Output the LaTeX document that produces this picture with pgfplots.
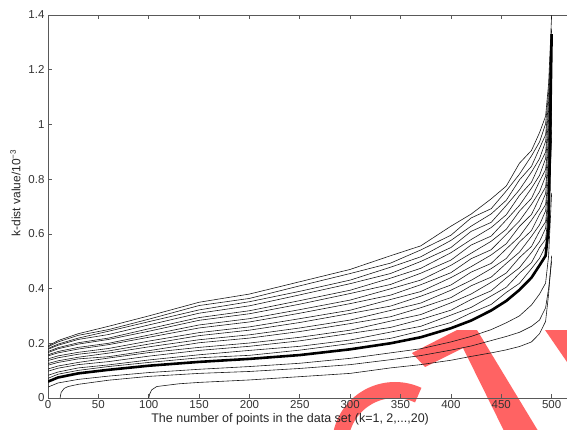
\documentclass[border=0pt]{standalone}
\usepackage{pgfplots}
\usepackage{pgfplotstable}
\pgfplotsset{compat=1.18}
\usepackage{fontspec}
\setmainfont{Liberation Sans}

\definecolor{wmred}{RGB}{255,99,99}

% k-dist curves, k=3..20 (k4 is the thick one)
\pgfplotstableread{
x   k3    k4    k5    k6    k7    k8    k9    k10   k11   k12   k13   k14   k15   k16   k17   k18   k19   k20
0   0.040 0.060 0.072 0.083 0.098 0.106 0.120 0.126 0.137 0.143 0.154 0.158 0.166 0.170 0.178 0.181 0.187 0.190
10  0.055 0.075 0.087 0.095 0.109 0.117 0.130 0.136 0.147 0.154 0.165 0.170 0.180 0.184 0.193 0.197 0.205 0.210
30  0.068 0.090 0.101 0.110 0.122 0.130 0.143 0.149 0.160 0.167 0.179 0.185 0.197 0.202 0.214 0.219 0.229 0.235
60  0.080 0.103 0.115 0.121 0.133 0.146 0.151 0.164 0.172 0.181 0.195 0.200 0.214 0.219 0.232 0.244 0.250 0.262
100 0.093 0.118 0.130 0.139 0.153 0.166 0.173 0.187 0.197 0.208 0.222 0.230 0.244 0.253 0.267 0.279 0.288 0.300
150 0.105 0.132 0.147 0.158 0.174 0.185 0.202 0.213 0.228 0.239 0.256 0.267 0.284 0.294 0.310 0.322 0.338 0.350
200 0.115 0.143 0.156 0.174 0.189 0.201 0.219 0.231 0.248 0.260 0.278 0.290 0.308 0.319 0.337 0.352 0.364 0.380
250 0.127 0.157 0.175 0.189 0.209 0.222 0.243 0.256 0.276 0.290 0.310 0.323 0.343 0.356 0.377 0.390 0.410 0.425
300 0.145 0.178 0.199 0.212 0.236 0.248 0.272 0.285 0.309 0.321 0.345 0.358 0.382 0.394 0.418 0.431 0.455 0.470
340 0.165 0.200 0.218 0.241 0.258 0.281 0.297 0.320 0.336 0.360 0.376 0.399 0.415 0.438 0.455 0.478 0.493 0.520
370 0.180 0.222 0.245 0.262 0.287 0.305 0.330 0.347 0.372 0.389 0.414 0.431 0.456 0.474 0.499 0.516 0.541 0.556
400 0.205 0.255 0.276 0.303 0.321 0.348 0.367 0.394 0.413 0.440 0.458 0.485 0.504 0.531 0.550 0.576 0.595 0.628
420 0.225 0.283 0.311 0.331 0.360 0.380 0.410 0.430 0.460 0.480 0.509 0.529 0.559 0.579 0.609 0.628 0.658 0.672
440 0.250 0.320 0.342 0.373 0.392 0.423 0.442 0.473 0.492 0.523 0.542 0.573 0.592 0.623 0.642 0.673 0.692 0.728
455 0.275 0.355 0.386 0.405 0.439 0.457 0.492 0.510 0.545 0.564 0.598 0.617 0.651 0.670 0.704 0.723 0.757 0.775
468 0.300 0.395 0.419 0.456 0.476 0.513 0.533 0.570 0.590 0.627 0.647 0.683 0.704 0.740 0.761 0.797 0.818 0.858
480 0.340 0.440 0.473 0.495 0.532 0.554 0.591 0.612 0.650 0.671 0.708 0.730 0.767 0.789 0.826 0.847 0.885 0.905
488 0.380 0.485 0.511 0.550 0.572 0.610 0.633 0.671 0.693 0.732 0.754 0.792 0.814 0.853 0.875 0.913 0.936 0.970
494 0.420 0.520 0.556 0.580 0.620 0.644 0.684 0.707 0.747 0.771 0.811 0.835 0.875 0.899 0.938 0.962 1.002 1.030
497 0.520 0.620 0.653 0.686 0.719 0.753 0.786 0.819 0.852 0.885 0.918 0.951 0.984 1.018 1.051 1.084 1.117 1.150
500 0.750 1.330 0.950 1.020 0.980 1.100 1.050 1.150 1.080 1.200 1.120 1.250 1.180 1.280 1.220 1.300 1.350 1.400
}\kdist

\pgfplotsset{kline/.style={black!90, line width=0.6pt, mark=none, line join=round}}

\begin{document}
\begin{tikzpicture}
% watermark remains, behind the plot
\fill[wmred] (364pt,45pt) -- (409pt,68pt) -- (429pt,68pt) -- (495pt,-41pt)
  -- (460pt,-41pt) -- (415pt,50pt) -- (377pt,31pt) -- cycle;
\fill[wmred] (497pt,68pt) -- (530pt,68pt) -- (530pt,20pt) -- cycle;
\draw[wmred, line width=16pt] (292.2pt,-42.2pt) arc[start angle=175, end angle=65, radius=55pt];

\begin{axis}[
    at={(0pt,0pt)}, anchor=south west,
    scale only axis, width=554pt, height=383pt,
    xmin=0, xmax=550, ymin=0, ymax=1.4,
    xtick={0,50,100,150,200,250,300,350,400,450,500},
    ytick={0,0.2,0.4,0.6,0.8,1,1.2,1.4},
    tick align=inside, major tick length=4pt,
    axis line style={black!65, line width=0.8pt},
    tick style={black!65, line width=0.7pt},
    /pgf/number format/assume math mode=true,
    ticklabel style={font=\fontsize{11.5}{13}\selectfont, text=black!80},
    xticklabel style={yshift=1pt},
    xlabel={The number of points in the data set (k=1, 2,...,20)},
    ylabel={k-dist value/10\textsuperscript{−3}},
    xlabel style={at={(axis description cs:0.437,0)}, anchor=north, yshift=-12pt,
        font=\fontsize{12.5}{14}\selectfont, text=black!85},
    ylabel style={at={(axis description cs:0,0.535)}, anchor=south, yshift=24pt,
        font=\fontsize{12}{14}\selectfont, text=black!85},
]
\addplot[kline] coordinates {(100,0) (101,0.015) (103,0.030) (108,0.042) (130,0.052)
  (150,0.057) (200,0.066) (250,0.078) (300,0.090) (340,0.110) (370,0.122) (400,0.138)
  (420,0.152) (440,0.165) (455,0.176) (468,0.188) (480,0.205) (488,0.235) (494,0.280)
  (497,0.380) (500,0.520)};
\addplot[kline] coordinates {(12,0) (13,0.020) (16,0.035) (20,0.042) (30,0.050)
  (60,0.065) (100,0.079) (150,0.090) (200,0.097) (250,0.108) (300,0.122) (340,0.140)
  (370,0.155) (400,0.175) (420,0.190) (440,0.210) (455,0.225) (468,0.240) (480,0.262)
  (488,0.285) (494,0.330) (497,0.400) (500,0.500)};
\addplot[kline] table[x=x, y=k3] {\kdist};
\pgfplotsinvokeforeach{5,...,20}{
  \addplot[kline] table[x=x, y=k#1] {\kdist};
}
\addplot[black, line width=2.6pt, line join=round] table[x=x, y=k4] {\kdist};
\end{axis}
\pgfresetboundingbox
\path[use as bounding box] (-48pt,-31pt) rectangle (519pt,398pt);
\end{tikzpicture}
\end{document}
